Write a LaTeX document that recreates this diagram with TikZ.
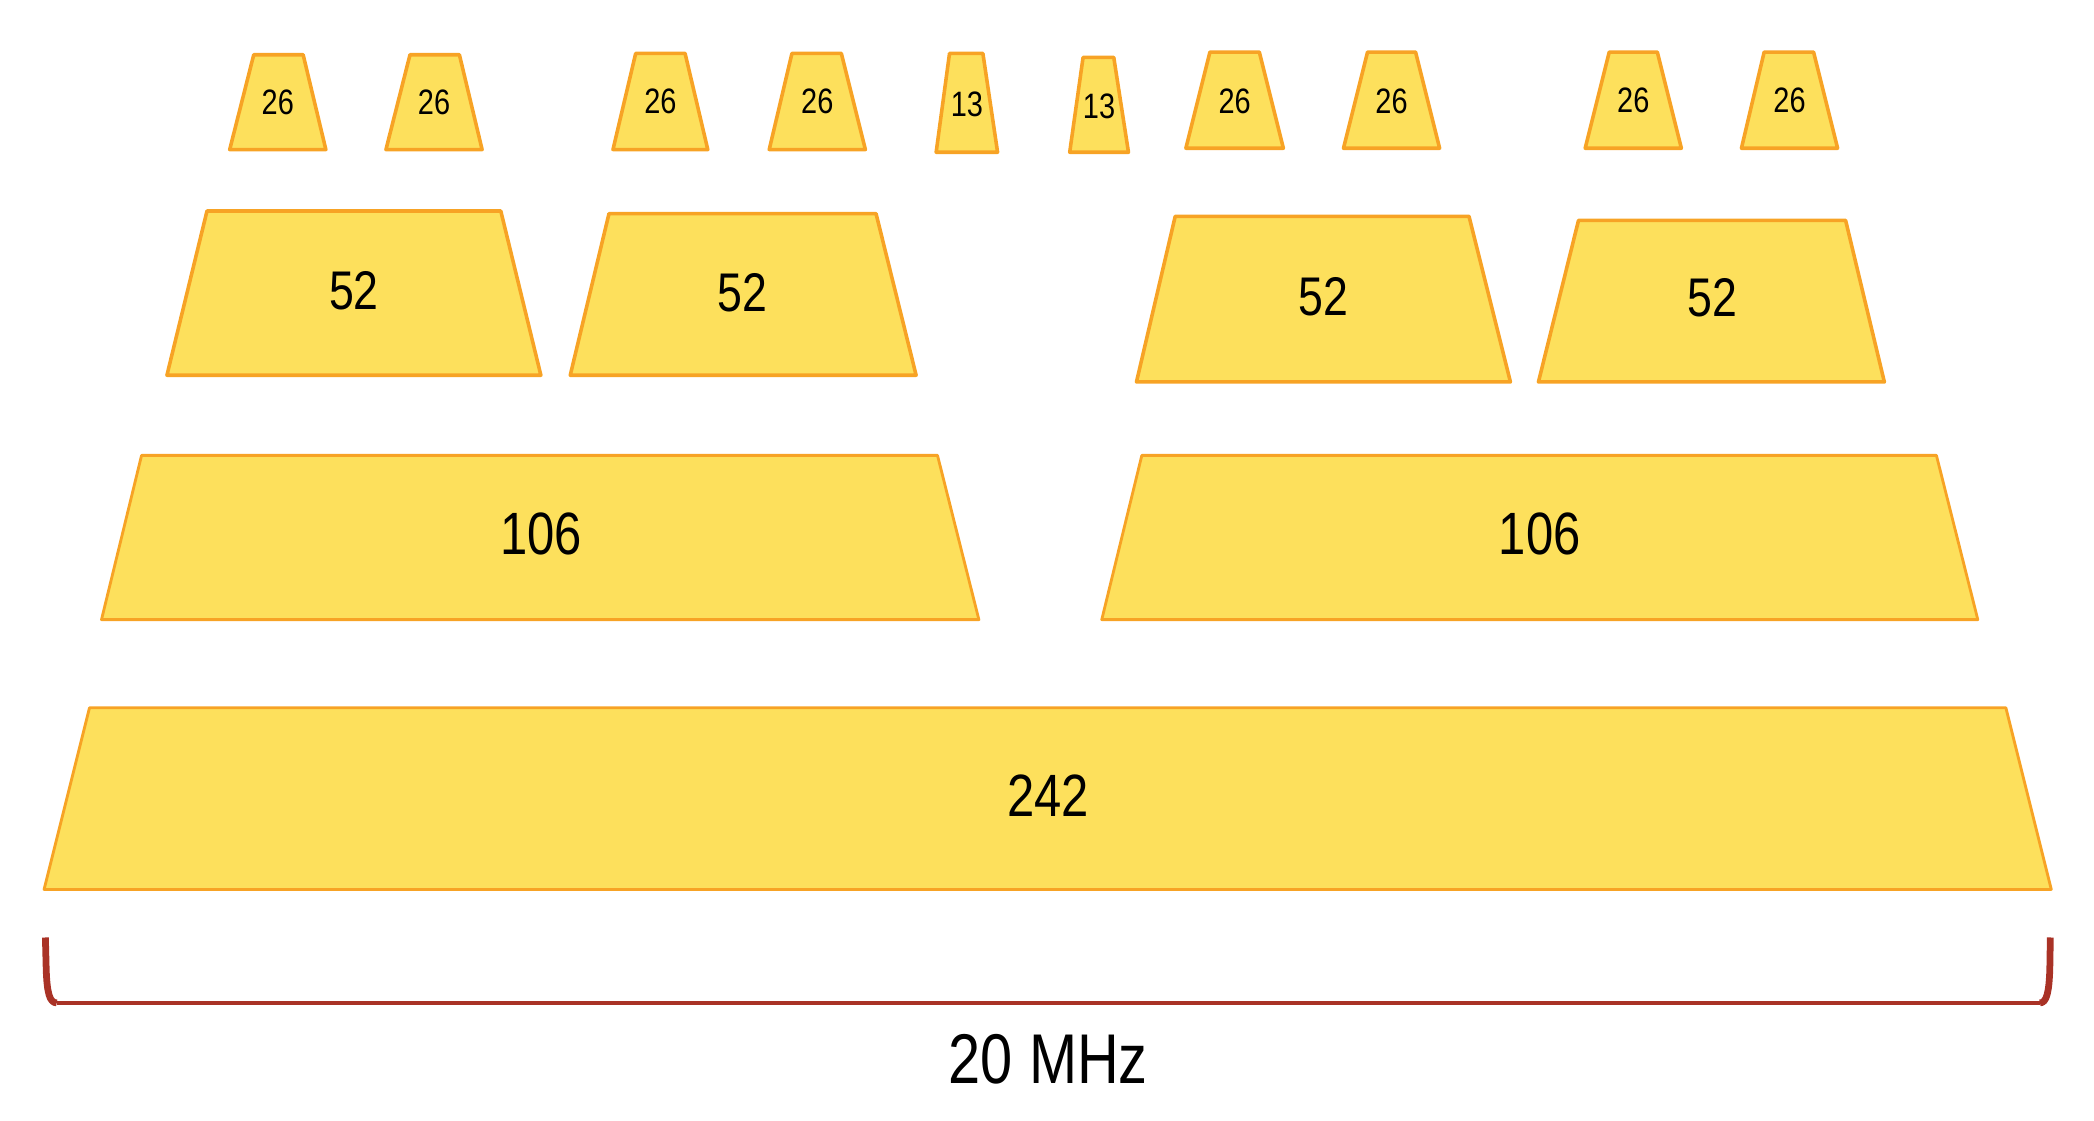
\documentclass[tikz,border=0pt]{standalone}
\usepackage{fontspec}
\setmainfont[FakeStretch=0.82]{Liberation Sans}
\definecolor{rufill}{HTML}{FDE05C}
\definecolor{rustroke}{HTML}{F7A325}
\definecolor{bracecol}{HTML}{A93226}
\begin{document}
\begin{tikzpicture}[x=0.025cm,y=-0.025cm,
  ru/.style={fill=rufill,draw=rustroke,line width=1.9pt,line join=round},
  rubig/.style={ru,line width=1.5pt},
  labsmall/.style={inner sep=0pt,font=\fontsize{18.8}{22}\selectfont},
  labmid/.style={inner sep=0pt,font=\fontsize{29}{34}\selectfont},
  labbig/.style={inner sep=0pt,font=\fontsize{31.8}{38}\selectfont},
  labbw/.style={inner sep=0pt,font=\fontsize{37.5}{44}\selectfont},
  brace/.style={draw=bracecol,line cap=butt,line join=round}]
\useasboundingbox (0,0) rectangle (1568,839);

% row 1: 26 / 13 tone RUs
\draw[ru] (172,112) -- (190,41) -- (227,41) -- (244,112) -- cycle;
\node[labsmall] (a1) at (208,77) {26};
\draw[ru] (289,112) -- (307,41) -- (344,41) -- (361,112) -- cycle;
\node[labsmall] (a2) at (325,77) {26};
\draw[ru] (459,112) -- (476,40) -- (513,40) -- (530,112) -- cycle;
\node[labsmall] (a3) at (494.5,76) {26};
\draw[ru] (576,112) -- (593,40) -- (630,40) -- (648,112) -- cycle;
\node[labsmall] (a4) at (612,76) {26};
\draw[ru] (701,114) -- (711,40) -- (736,40) -- (747,114) -- cycle;
\node[labsmall] (b1) at (724,78) {13};
\draw[ru] (801,114) -- (811,43) -- (834,43) -- (845,114) -- cycle;
\node[labsmall] (b2) at (823,79.5) {13};
\draw[ru] (888,111) -- (906,39) -- (943,39) -- (961,111) -- cycle;
\node[labsmall] (a5) at (924.5,76) {26};
\draw[ru] (1006,111) -- (1024,39) -- (1060,39) -- (1078,111) -- cycle;
\node[labsmall] (a6) at (1042,76) {26};
\draw[ru] (1187,111) -- (1205,39) -- (1241,39) -- (1259,111) -- cycle;
\node[labsmall] (a7) at (1223,75) {26};
\draw[ru] (1304,111) -- (1321,39) -- (1358,39) -- (1376,111) -- cycle;
\node[labsmall] (a8) at (1340,75) {26};

% row 2: 52 tone RUs
\draw[ru] (125,281) -- (155,158) -- (375,158) -- (405,281) -- cycle;
\node[labmid] (c1) at (265,218) {52};
\draw[ru] (427,281) -- (456,160) -- (656,160) -- (686,281) -- cycle;
\node[labmid] (c2) at (556,219) {52};
\draw[ru] (851,286) -- (880,162) -- (1100,162) -- (1131,286) -- cycle;
\node[labmid] (c3) at (991,222) {52};
\draw[ru] (1152,286) -- (1182,165) -- (1382,165) -- (1411,286) -- cycle;
\node[labmid] (c4) at (1282,223) {52};

% row 3: 106 tone RUs
\draw[rubig] (76,464) -- (106,341) -- (702,341) -- (733,464) -- cycle;
\node[labbig] (d1) at (405,400) {106};
\draw[rubig] (825,464) -- (855,341) -- (1450,341) -- (1481,464) -- cycle;
\node[labbig] (d2) at (1153,400) {106};

% row 4: 242 tone RU
\draw[rubig] (33,666) -- (67,530) -- (1502,530) -- (1536,666) -- cycle;
\node[labbig] (e1) at (785,596) {242};

% bracket
\coordinate (bl) at (42.5,751);
\coordinate (br) at (1527.5,751);
\draw[brace,line width=2.4pt] (bl) -- (br);
\draw[brace,line width=3.6pt] (34,702) -- (34.6,726)
  .. controls (35.2,743) and (37,751) .. (bl);
\draw[brace,line width=3.6pt] (1535.3,702) -- (1534.9,726)
  .. controls (1534.3,743) and (1532.5,751) .. (br);
\node[labbw] (bw) at (785,793) {20 MHz};
\end{tikzpicture}
\end{document}
